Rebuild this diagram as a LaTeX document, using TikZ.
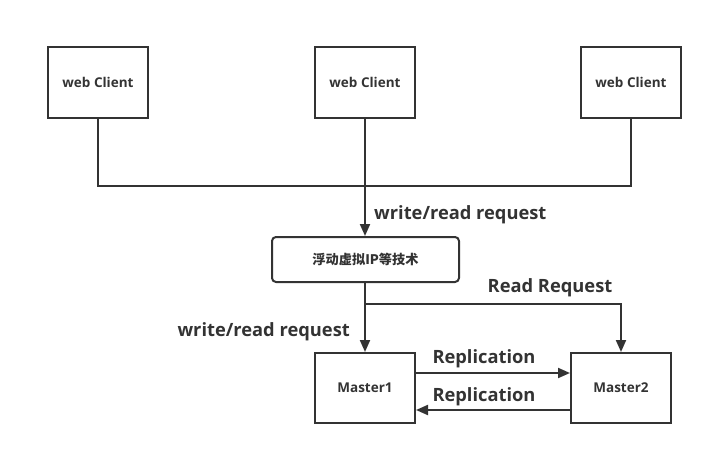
\documentclass[tikz,border=0pt]{standalone}
\usepackage{fontspec}
\setmainfont{Open Sans}
\newfontfamily\cjk{Noto Sans CJK SC}
\usetikzlibrary{arrows.meta}
\definecolor{ink}{HTML}{333333}
\tikzset{
  box/.style={draw=ink, line width=2pt, inner sep=0pt, text=ink, font=\fontsize{13.5}{15}\selectfont\bfseries},
  conn/.style={draw=ink, line width=2pt},
  arr/.style={conn, -{Triangle[length=12pt,width=10pt]}},
  lbl/.style={text=ink, font=\fontsize{18.3}{21}\selectfont\bfseries, inner sep=0pt}
}
\begin{document}
\begin{tikzpicture}[x=1pt,y=-1pt]
\useasboundingbox (0,0) rectangle (713,455);
\node[box, minimum width=100pt, minimum height=71pt] (c1) at (98,82.5) {web Client};
\node[box, minimum width=100pt, minimum height=71pt] (c2) at (365,82.5) {web Client};
\node[box, minimum width=100pt, minimum height=71pt] (c3) at (631,82.5) {web Client};
\node[box, rounded corners=4pt, minimum width=187pt, minimum height=45pt, font=\fontsize{13.2}{15}\selectfont\cjk\bfseries] (vip) at (365.5,259.5) {浮动虚拟IP等技术};
\node[box, minimum width=100pt, minimum height=70pt] (m1) at (365,388) {Master1};
\node[box, minimum width=100pt, minimum height=70pt] (m2) at (621,388) {Master2};
\coordinate (j) at (365,186);
\coordinate (k) at (365,304);
\draw[conn] (c1.south) |- (j);
\draw[conn] (c3.south) |- (j);
\draw[conn] (c2.south) -- (j);
\draw[arr] (j) -- (vip.north -| j);
\draw[arr] (vip.south -| k) -- (m1.north);
\draw[arr] (k) -| (m2.north);
\draw[arr] (m1.east |- 0,373) -- (m2.west |- 0,373);
\draw[arr] (m2.west |- 0,410) -- (m1.east |- 0,410);
\node[lbl, anchor=west] (l1) at (374,214.5) {write/read request};
\node[lbl, anchor=east] (l2) at (350,331.5) {write/read request};
\node[lbl] (l3) at (550,287.5) {Read Request};
\node[lbl] (l4) at (484,358.5) {Replication};
\node[lbl] (l5) at (484,396.5) {Replication};
\end{tikzpicture}
\end{document}
